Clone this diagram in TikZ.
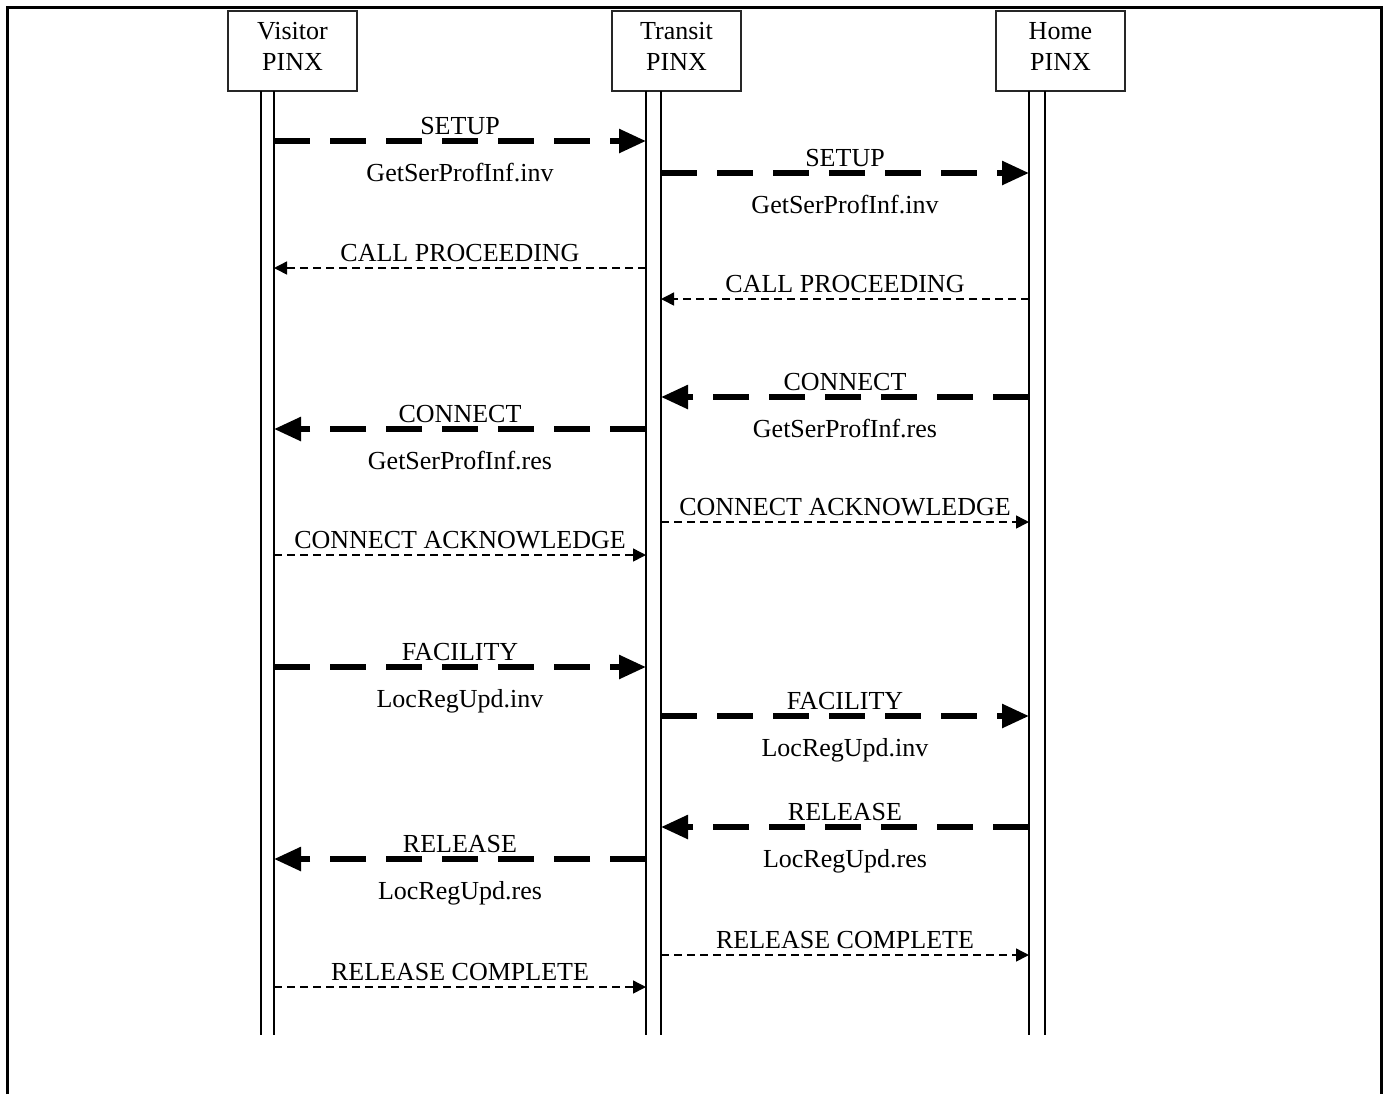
\documentclass[tikz,border=0pt]{standalone}
\usepackage{fontspec}
\setmainfont{Liberation Serif}
\usetikzlibrary{arrows.meta}

\begin{document}
\begin{tikzpicture}[x=0.5pt, y=-0.5pt,
    every node/.style={font=\fontsize{13}{15.5}\selectfont},
    pinxbox/.style={draw=black!85, line width=0.75pt, minimum width=64.5pt, minimum height=40pt, align=center, inner sep=0pt, text depth=5pt},
    lifeline/.style={black, line width=0.75pt},
    bigmsg/.style={line width=2.8pt, dash pattern=on 18pt off 10pt, -{Triangle[length=13.5pt, width=11.5pt]}},
    smallmsg/.style={line width=0.75pt, dash pattern=on 4pt off 2.5pt, -{Triangle[length=6.5pt, width=6.5pt]}},
    msgtop/.style={anchor=base, yshift=3.5pt, inner sep=0pt},
    msgbot/.style={anchor=base, yshift=-20pt, inner sep=0pt}]
    \useasboundingbox (0,0) rectangle (1388,1094);

    % Frame
    \draw[line width=1.5pt] (7,1094) -- (7,7) -- (1381,7) -- (1381,1094);

    % PINX boxes
    \node[pinxbox] (visitor) at (292.5,51) {Visitor\\PINX};
    \node[pinxbox] (transit) at (676.5,51) {Transit\\PINX};
    \node[pinxbox] (home) at (1060.5,51) {Home\\PINX};

    % Lifelines
    \foreach \name/\xl/\xr in {v/261/274, t/646/661, h/1029/1045} {
        \coordinate (\name L) at (\xl,91);
        \coordinate (\name R) at (\xr,91);
        \draw[lifeline] (\name L) -- ++(0,944);
        \draw[lifeline] (\name R) -- ++(0,944);
    }

    % Call setup
    \draw[bigmsg] (vR |- 0,141) -- node[msgtop] {SETUP} node[msgbot] {GetSerProfInf.inv} (tL |- 0,141);
    \draw[bigmsg] (tR |- 0,173) -- node[msgtop] {SETUP} node[msgbot] {GetSerProfInf.inv} (hL |- 0,173);
    \draw[smallmsg] (tL |- 0,268) -- node[msgtop] {CALL PROCEEDING} (vR |- 0,268);
    \draw[smallmsg] (hL |- 0,299) -- node[msgtop] {CALL PROCEEDING} (tR |- 0,299);

    % Connect
    \draw[bigmsg] (hL |- 0,397) -- node[msgtop] {CONNECT} node[msgbot] {GetSerProfInf.res} (tR |- 0,397);
    \draw[bigmsg] (tL |- 0,429) -- node[msgtop] {CONNECT} node[msgbot] {GetSerProfInf.res} (vR |- 0,429);
    \draw[smallmsg] (tR |- 0,522) -- node[msgtop] {CONNECT ACKNOWLEDGE} (hL |- 0,522);
    \draw[smallmsg] (vR |- 0,555) -- node[msgtop] {CONNECT ACKNOWLEDGE} (tL |- 0,555);

    % Facility
    \draw[bigmsg] (vR |- 0,667) -- node[msgtop] {FACILITY} node[msgbot] {LocRegUpd.inv} (tL |- 0,667);
    \draw[bigmsg] (tR |- 0,716) -- node[msgtop] {FACILITY} node[msgbot] {LocRegUpd.inv} (hL |- 0,716);

    % Release
    \draw[bigmsg] (hL |- 0,827) -- node[msgtop] {RELEASE} node[msgbot] {LocRegUpd.res} (tR |- 0,827);
    \draw[bigmsg] (tL |- 0,859) -- node[msgtop] {RELEASE} node[msgbot] {LocRegUpd.res} (vR |- 0,859);
    \draw[smallmsg] (tR |- 0,955) -- node[msgtop] {RELEASE COMPLETE} (hL |- 0,955);
    \draw[smallmsg] (vR |- 0,987) -- node[msgtop] {RELEASE COMPLETE} (tL |- 0,987);
\end{tikzpicture}
\end{document}
